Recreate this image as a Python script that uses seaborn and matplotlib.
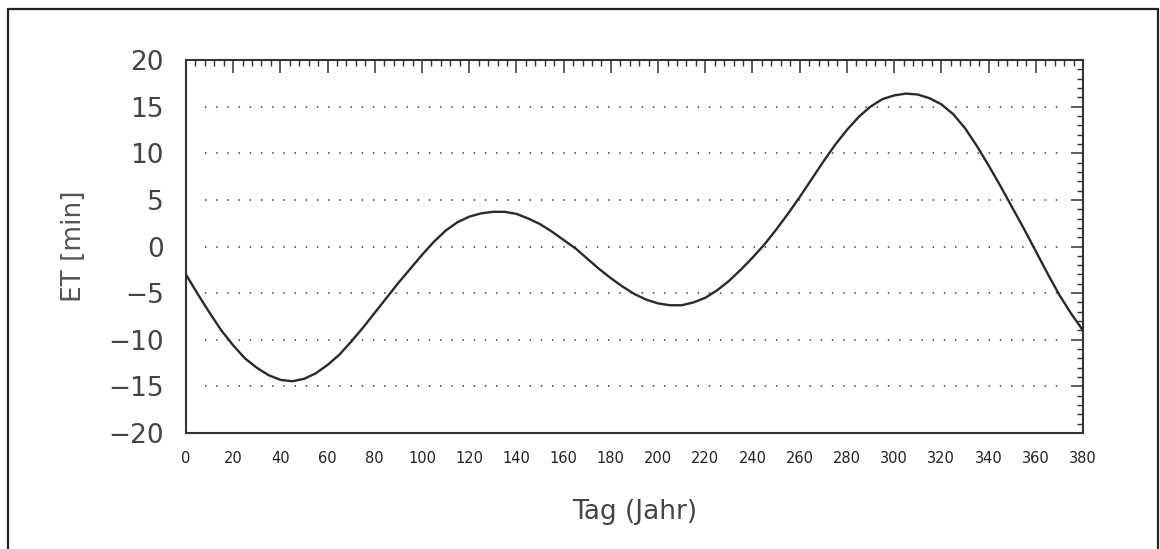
import numpy as np
import pandas as pd
import matplotlib
matplotlib.use("Agg")
import matplotlib.pyplot as plt
from matplotlib.lines import Line2D
from matplotlib.ticker import MultipleLocator
import seaborn as sns

# Equation of time over the year (minutes), sampled every 5 days
days = [0, 5, 10, 15, 20, 25, 30, 35, 40, 45, 50, 55, 60, 65, 70, 75, 80, 85,
        90, 95, 100, 105, 110, 115, 120, 125, 130, 135, 140, 145, 150, 155,
        160, 165, 170, 175, 180, 185, 190, 195, 200, 205, 210, 215, 220, 225,
        230, 235, 240, 245, 250, 255, 260, 265, 270, 275, 280, 285, 290, 295,
        300, 305, 310, 315, 320, 325, 330, 335, 340, 345, 350, 355, 360, 365,
        370, 375, 380]
et_minutes = [-3.0, -5.1, -7.1, -9.0, -10.6, -12.0, -13.0, -13.8, -14.3, -14.45,
              -14.2, -13.6, -12.7, -11.6, -10.2, -8.7, -7.1, -5.5,
              -3.9, -2.4, -0.9, 0.5, 1.7, 2.6, 3.2, 3.55, 3.72, 3.72, 3.5,
              3.0, 2.4, 1.6, 0.7, -0.2, -1.3, -2.4, -3.4, -4.3, -5.1, -5.7,
              -6.1, -6.3, -6.3, -6.0, -5.5, -4.7, -3.7, -2.5, -1.2, 0.2, 1.8,
              3.5, 5.3, 7.2, 9.1, 10.9, 12.5, 13.9, 15.0, 15.8, 16.2, 16.4,
              16.3, 15.9, 15.25, 14.2, 12.7, 10.8, 8.7, 6.5, 4.2, 1.9, -0.5,
              -2.9, -5.2, -7.2, -9.0]

x_ticks = list(range(0, 381, 20))
y_ticks = [-20, -15, -10, -5, 0, 5, 10, 15, 20]
grid_levels = [-15, -10, -5, 0, 5, 10, 15]

df = pd.DataFrame({"Tag": days, "ET": et_minutes})

sns.set_theme(style="white")
plt.rcParams["font.family"] = ["DejaVu Sans"]

fig = plt.figure(figsize=(11.6, 5.49), dpi=100)
ax = fig.add_axes([0.1603, 0.2113, 0.7733, 0.6794])

# dotted horizontal guides, inset slightly from the frame
for lvl in grid_levels:
    ax.hlines(lvl, 8, 373, color="#555555", linewidth=1.3,
              linestyle=(0, (0.8, 5.4)), zorder=1)

sns.lineplot(data=df, x="Tag", y="ET", ax=ax, color="#2a2a2a",
             linewidth=1.7, zorder=3, solid_joinstyle="round")

ax.set_xlim(0, 380)
ax.set_ylim(-20, 20)
ax.set_xticks(x_ticks)
ax.set_yticks(y_ticks)
ax.xaxis.set_minor_locator(MultipleLocator(4))
ax.yaxis.set_minor_locator(MultipleLocator(1))

ax.set_xticklabels([str(v) for v in x_ticks], fontsize=10.5, color="#222222")
ax.set_yticklabels([f"\u2212{abs(v)}" if v < 0 else str(v) for v in y_ticks],
                   fontsize=19, color="#444444")

ax.tick_params(axis="both", which="major", direction="in", length=9,
               width=1.1, color="#333333", top=True, right=True)
ax.tick_params(axis="both", which="minor", direction="in", length=4.5,
               width=1.0, color="#333333", top=True, right=True)
ax.tick_params(axis="x", which="major", pad=13)
ax.tick_params(axis="y", which="major", pad=16)

for side in ax.spines.values():
    side.set_visible(True)
    side.set_linewidth(1.5)
    side.set_color("#333333")

ax.set_xlabel("Tag (Jahr)", fontsize=19, color="#444444", labelpad=24)
ax.set_ylabel("ET [min]", fontsize=19, color="#555555", labelpad=15)

# outer page frame
frame_kw = dict(transform=fig.transFigure, color="#222222", linewidth=1.6)
fig.add_artist(Line2D([0.0072, 0.0072], [0.0, 0.9836], **frame_kw))
fig.add_artist(Line2D([0.0072, 0.9983], [0.9836, 0.9836], **frame_kw))
fig.add_artist(Line2D([0.9983, 0.9983], [0.0, 0.9836], **frame_kw))

fig.savefig("out.png", dpi=100, facecolor="white")
